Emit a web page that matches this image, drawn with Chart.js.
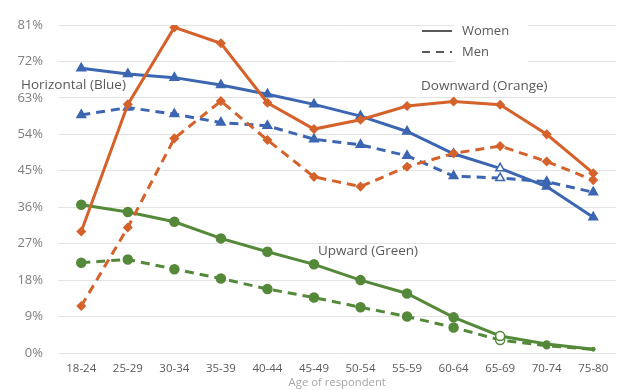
<!DOCTYPE html>
<html><head><meta charset="utf-8">
<script src="https://cdn.jsdelivr.net/npm/chart.js@4"></script>
<style>html,body{margin:0;padding:0;background:#fff}#wrap{width:623px;height:390px}</style>
</head><body><div id="wrap"><canvas id="c" width="623" height="390"></canvas></div>
<script>
const categories = ["18-24","25-29","30-34","35-39","40-44","45-49","50-54","55-59","60-64","65-69","70-74","75-80"];
const yTicks = [0,9,18,27,36,45,54,63,72,81];
const orangeWomen = [30.0,61.4,80.4,76.5,61.8,55.3,57.6,61.0,62.1,61.3,54.0,44.4];
const orangeMen   = [11.6,31.0,53.0,62.2,52.6,43.5,41.1,46.0,49.3,51.1,47.3,42.7];
const blueWomen   = [70.3,68.9,68.0,66.2,63.9,61.4,58.5,54.7,49.2,45.6,41.1,33.5];
const blueMen     = [58.8,60.6,59.0,56.9,56.1,52.8,51.4,48.7,43.7,43.2,42.3,39.7];
const greenWomen  = [36.6,34.8,32.4,28.3,25.0,21.9,18.0,14.7,8.8,4.2,2.2,0.9];
const greenMen    = [22.3,23.1,20.7,18.4,15.8,13.7,11.3,9.0,6.3,3.2,1.8,0.9];
const annotations = [
  {text:"Horizontal (Blue)", x:21, y:85},
  {text:"Downward (Orange)", x:421, y:86},
  {text:"Upward (Green)", x:318, y:251}
];
const legendItems = [{text:"Women", dash:[]},{text:"Men", dash:[8,6]}];

const BLUE="#3C66B1", ORANGE="#D5622B", GREEN="#55893A";
function fills(color, hollowIdx){return categories.map((_,i)=>i===hollowIdx?"#ffffff":color);}
function ds(data,color,dashed,style,radius,hollow){
  return {data, borderColor:color, backgroundColor:color,
    pointBackgroundColor: hollow?fills(color,9):color, pointBorderColor:color,
    borderWidth:3, borderDash: dashed?[9,6]:[], pointStyle:style, pointRadius:radius,
    pointBorderWidth:1.5, tension:0, fill:false};
}
const greenRadius = categories.map((_,i)=>i===10?3:(i===11?1.5:4.5));
const overlay = {
  id:'overlay',
  beforeDatasetsDraw(chart){
    const ctx=chart.ctx; ctx.save();
    ctx.fillStyle="#ffffff"; ctx.fillRect(454,16,74,56);
    ctx.font="13px 'Open Sans'"; ctx.fillStyle="#595959"; ctx.textBaseline="middle";
    legendItems.forEach((it,i)=>{
      const y = 31 + i*21;
      ctx.beginPath(); ctx.setLineDash(it.dash); ctx.strokeStyle="#595959"; ctx.lineWidth=2;
      ctx.moveTo(422,y); ctx.lineTo(452,y); ctx.stroke();
      ctx.setLineDash([]);
      ctx.fillText(it.text,462,y);
    });
    ctx.restore();
  },
  afterDatasetsDraw(chart){
    const ctx=chart.ctx; ctx.save();
    ctx.font="13.5px 'Open Sans'"; ctx.fillStyle="#595959"; ctx.textBaseline="middle";
    annotations.forEach(a=>ctx.fillText(a.text,a.x,a.y));
    ctx.restore();
  }
};
new Chart(document.getElementById('c'),{
  type:'line',
  data:{labels:categories, datasets:[
    ds(orangeWomen,ORANGE,false,'rectRot',4,false),
    ds(orangeMen,ORANGE,true,'rectRot',4,false),
    ds(blueWomen,BLUE,false,'triangle',5,true),
    ds(blueMen,BLUE,true,'triangle',5,true),
    ds(greenWomen,GREEN,false,'circle',greenRadius,true),
    ds(greenMen,GREEN,true,'circle',greenRadius,true)
  ]},
  options:{
    responsive:false, animation:false, devicePixelRatio:1,
    layout:{padding:{top:25,right:0,bottom:0,left:0}},
    plugins:{legend:{display:false}, tooltip:{enabled:false}},
    scales:{
      x:{offset:true, grid:{display:false, drawTicks:false}, border:{display:false},
        ticks:{color:"#595959", font:{family:"Open Sans", size:11.5}, padding:9, maxRotation:0, autoSkip:false},
        title:{display:true, text:"Age of respondent", color:"#a6a6a6", font:{family:"Open Sans", size:11.3}, padding:{top:0,bottom:0}},
        afterFit(s){s.height=37;}
      },
      y:{min:0,max:81, afterBuildTicks(s){s.ticks=yTicks.map(v=>({value:v}));},
        grid:{color:"#e3e3e3", lineWidth:1, drawTicks:false}, border:{display:false},
        ticks:{color:"#7f7f7f", font:{family:"Open Sans", size:13}, padding:15, callback:v=>v+"%"},
        afterFit(s){s.width=58;}
      }
    }
  },
  plugins:[overlay]
});
</script></body></html>
